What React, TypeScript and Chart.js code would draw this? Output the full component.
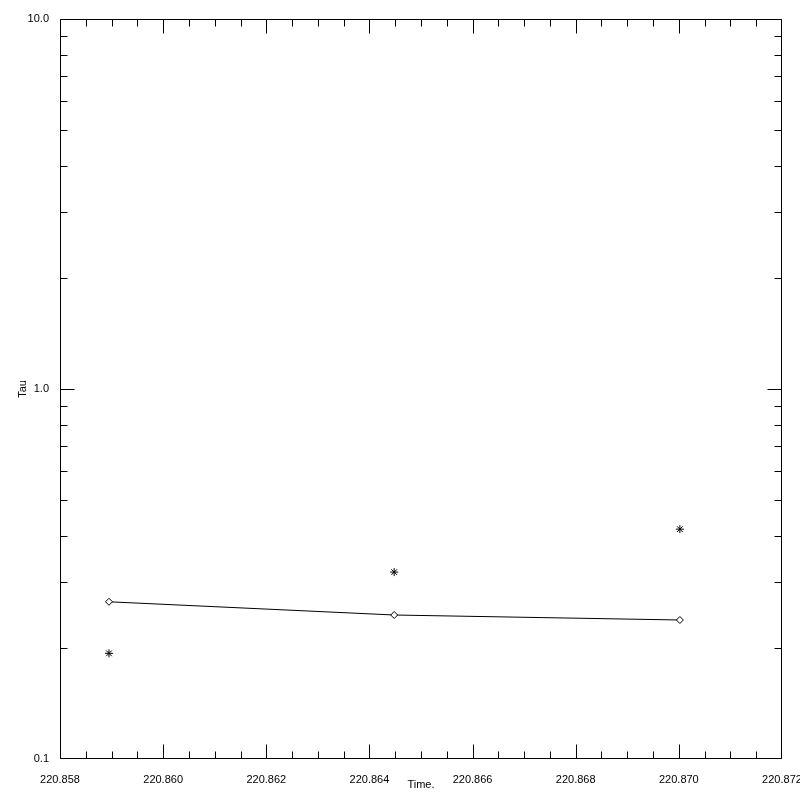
import React, { useEffect, useRef } from "react";
import { Chart, registerables } from "chart.js";

Chart.register(...registerables);

// ---- data ----
const times = [220.85895, 220.86448, 220.87002];
const tauFit = [0.266, 0.245, 0.2375];
const tauObs = [0.193, 0.32, 0.418];

// ---- axes ----
const xMin = 220.858;
const xMax = 220.872;
const xTickValues = [220.858, 220.86, 220.862, 220.864, 220.866, 220.868, 220.87, 220.872];
const xMinorPerMajor = 4;
const yMin = 0.1;
const yMax = 10;
const yDecades = [0.1, 1, 10];
const yTickLabels = ["0.1", "1.0", "10.0"];
const xTitle = "Time.";
const yTitle = "Tau";

const FONT = "'Liberation Sans', Helvetica, Arial, sans-serif";

const idlFrame = {
  id: "idlFrame",
  afterDraw(chart: any) {
    const { ctx, chartArea } = chart;
    const xs = chart.scales.x;
    const ys = chart.scales.y;
    const L = Math.round(chartArea.left) + 0.5;
    const R = Math.round(chartArea.right) - 0.5;
    const T = Math.round(chartArea.top) + 0.5;
    const B = Math.round(chartArea.bottom) - 0.5;
    const cx = (v: number) => Math.min(R, Math.max(L, Math.round(xs.getPixelForValue(v)) + 0.5));
    const cy = (v: number) => Math.min(B, Math.max(T, Math.round(ys.getPixelForValue(v)) + 0.5));
    ctx.save();
    ctx.strokeStyle = "#000";
    ctx.lineWidth = 1;
    ctx.beginPath();
    ctx.rect(L, T, R - L, B - T);
    ctx.stroke();
    const major = 14, minor = 7;
    ctx.beginPath();
    for (let i = 0; i < xTickValues.length; i++) {
      const v = xTickValues[i];
      const px = cx(v);
      ctx.moveTo(px, B); ctx.lineTo(px, B - major);
      ctx.moveTo(px, T); ctx.lineTo(px, T + major);
      if (i < xTickValues.length - 1) {
        const next = xTickValues[i + 1];
        for (let k = 1; k < xMinorPerMajor; k++) {
          const mx = cx(v + ((next - v) * k) / xMinorPerMajor);
          ctx.moveTo(mx, B); ctx.lineTo(mx, B - minor);
          ctx.moveTo(mx, T); ctx.lineTo(mx, T + minor);
        }
      }
    }
    for (let i = 0; i < yDecades.length; i++) {
      const d = yDecades[i];
      const py = cy(d);
      ctx.moveTo(L, py); ctx.lineTo(L + major, py);
      ctx.moveTo(R, py); ctx.lineTo(R - major, py);
      if (i < yDecades.length - 1) {
        for (let k = 2; k <= 9; k++) {
          const my = cy(d * k);
          ctx.moveTo(L, my); ctx.lineTo(L + minor, my);
          ctx.moveTo(R, my); ctx.lineTo(R - minor, my);
        }
      }
    }
    ctx.stroke();
    ctx.restore();
  },
};

export default function App() {
  const ref = useRef<HTMLCanvasElement | null>(null);
  useEffect(() => {
    if (!ref.current) return;
    const chart = new Chart(ref.current, {
      type: "scatter",
      data: {
        datasets: [
          {
            label: "fit",
            data: times.map((t, i) => ({ x: t, y: tauFit[i] })),
            showLine: true,
            borderColor: "#000",
            backgroundColor: "#fff",
            borderWidth: 1,
            pointStyle: "rectRot",
            pointRadius: 3.5,
            pointBorderWidth: 1,
            pointBorderColor: "#000",
            pointBackgroundColor: "#fff",
          },
          {
            label: "obs",
            data: times.map((t, i) => ({ x: t, y: tauObs[i] })),
            showLine: false,
            borderColor: "#000",
            backgroundColor: "#000",
            pointStyle: "star",
            pointRadius: 4,
            pointBorderWidth: 1,
          },
        ],
      },
      options: {
        responsive: false,
        animation: false,
        events: [],
        layout: { padding: { top: 19, right: 18, left: 0, bottom: 0 } },
        plugins: { legend: { display: false }, tooltip: { enabled: false } },
        scales: {
          x: {
            type: "linear",
            min: xMin,
            max: xMax,
            grid: { display: false },
            border: { display: false },
            afterBuildTicks: (s: any) => {
              s.ticks = xTickValues.map((v) => ({ value: v }));
            },
            afterFit: (s: any) => {
              s.height = 41;
              s.paddingLeft = 0;
              s.paddingRight = 0;
            },
            ticks: {
              autoSkip: false,
              maxRotation: 0,
              minRotation: 0,
              padding: 6,
              color: "#000",
              font: { family: FONT, size: 11 },
              callback: (v: any) => Number(v).toFixed(3),
            },
            title: {
              display: true,
              text: xTitle,
              color: "#000",
              font: { family: FONT, size: 11 },
              padding: { top: 0, bottom: 8 },
            },
          },
          y: {
            type: "logarithmic",
            min: yMin,
            max: yMax,
            grid: { display: false },
            border: { display: false },
            afterBuildTicks: (s: any) => {
              s.ticks = yDecades.map((v) => ({ value: v }));
            },
            afterFit: (s: any) => {
              s.width = 60;
              s.paddingTop = 0;
              s.paddingBottom = 0;
            },
            ticks: {
              autoSkip: false,
              padding: 3,
              color: "#000",
              font: { family: FONT, size: 11 },
              callback: (v: any) => {
                const i = yDecades.findIndex((d) => Math.abs(d - Number(v)) < 1e-9);
                return i >= 0 ? yTickLabels[i] : "";
              },
            },
            title: {
              display: true,
              text: yTitle,
              color: "#000",
              font: { family: FONT, size: 11 },
              padding: { top: 16, bottom: 0 },
            },
          },
        },
      },
      plugins: [idlFrame],
    } as any);
    return () => chart.destroy();
  }, []);
  return (
    <div style={{ position: "fixed", left: 0, top: 0, width: 800, height: 800, background: "#fff" }}>
      <canvas ref={ref} width={800} height={800} style={{ display: "block" }} />
    </div>
  );
}
